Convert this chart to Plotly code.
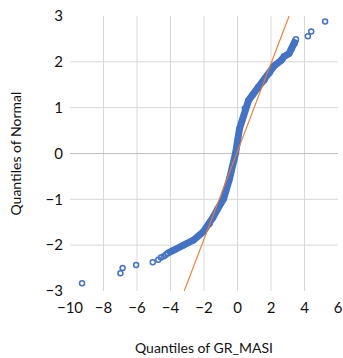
import plotly.graph_objects as go

# Tick / grid values
x_tick_vals = [-10, -8, -6, -4, -2, 0, 2, 4, 6]
x_grid_vals = [-8, -6, -4, -2, 0, 2, 4]
y_tick_vals = [-3, -2, -1, 0, 1, 2, 3]
y_grid_vals = [-2, -1, 1, 2]

# Lower-tail isolated points (quantiles of GR_MASI, quantiles of Normal)
tail_low_x = [-9.28, -6.99, -6.86, -6.05, -5.06, -4.73, -4.57, -4.40, -4.28]
tail_low_y = [-2.83, -2.61, -2.50, -2.43, -2.37, -2.32, -2.27, -2.24, -2.21]

# Dense central band (read along its centre)
band_x = [-4.19, -3.80, -3.22, -2.63, -2.05, -1.67, -1.47, -1.20, -0.82, -0.47,
          -0.12, 0.12, 0.44, 0.66, 0.90, 1.24, 1.60, 1.92, 2.21, 2.60, 2.79,
          3.08, 3.24, 3.41, 3.49]
band_y = [-2.18, -2.11, -2.00, -1.89, -1.71, -1.53, -1.40, -1.22, -0.98, -0.54,
          0.00, 0.54, 0.98, 1.16, 1.28, 1.45, 1.60, 1.76, 1.92, 2.03, 2.12,
          2.18, 2.29, 2.40, 2.49]

# Upper-tail isolated points
tail_high_x = [4.20, 4.40, 5.23]
tail_high_y = [2.56, 2.66, 2.88]

# Reference (normal) line end points
ref_x = [-3.18, 3.08]
ref_y = [-3.0, 3.0]

BLUE = "#4472C4"
ORANGE = "#ED7D31"
GRID = "#D9D9D9"
TEXT = "#111111"
FONT = "Lato"

fig = go.Figure()

for v in x_grid_vals:
    fig.add_shape(type="line", xref="x", yref="paper", x0=v, x1=v, y0=0, y1=1,
                  line=dict(color=GRID, width=1), layer="below")
for v in y_grid_vals:
    fig.add_shape(type="line", xref="paper", yref="y", x0=0, x1=1, y0=v, y1=v,
                  line=dict(color=GRID, width=1), layer="below")
fig.add_shape(type="line", xref="paper", yref="y", x0=0, x1=1, y0=0, y1=0,
              line=dict(color="#BFBFBF", width=1.2), layer="below")

marker = dict(symbol="circle-open", size=5, color=BLUE, line=dict(width=1.5, color=BLUE))

fig.add_trace(go.Scatter(x=band_x, y=band_y, mode="lines+markers",
                         line=dict(color=BLUE, width=7), marker=marker,
                         showlegend=False, hoverinfo="skip"))
fig.add_trace(go.Scatter(x=tail_low_x, y=tail_low_y, mode="markers",
                         marker=marker, showlegend=False))
fig.add_trace(go.Scatter(x=tail_high_x, y=tail_high_y, mode="markers",
                         marker=marker, showlegend=False))
fig.add_trace(go.Scatter(x=ref_x, y=ref_y, mode="lines",
                         line=dict(color=ORANGE, width=1.1), showlegend=False))

fig.update_layout(
    width=343, height=358,
    margin=dict(l=70, r=0, t=16, b=67),
    paper_bgcolor="white", plot_bgcolor="white",
    font=dict(family=FONT, color=TEXT),
    xaxis=dict(range=[-10, 6], tickvals=x_tick_vals, showgrid=False, zeroline=False,
               showline=False, ticks="", tickfont=dict(size=15, color=TEXT, family=FONT),
               ticklabelstandoff=6, ticklabeloverflow="allow"),
    yaxis=dict(range=[-3, 3], tickvals=y_tick_vals, showgrid=False, zeroline=False,
               showline=False, ticks="", tickfont=dict(size=15, color=TEXT, family=FONT),
               ticklabelstandoff=6),
    annotations=[
        dict(text="Quantiles of GR_MASI", xref="paper", yref="paper", x=0.5, y=0,
             xanchor="center", yanchor="middle", yshift=-56, showarrow=False,
             font=dict(size=14, color=TEXT, family=FONT)),
        dict(text="Quantiles of Normal", xref="paper", yref="paper", x=0, y=0.5,
             xanchor="center", yanchor="middle", xshift=-55, textangle=-90,
             showarrow=False, font=dict(size=14, color=TEXT, family=FONT)),
    ],
)

fig.write_html("out.html", config={"displayModeBar": False},
               post_script="document.body.style.margin='0';document.body.style.overflow='hidden';")
